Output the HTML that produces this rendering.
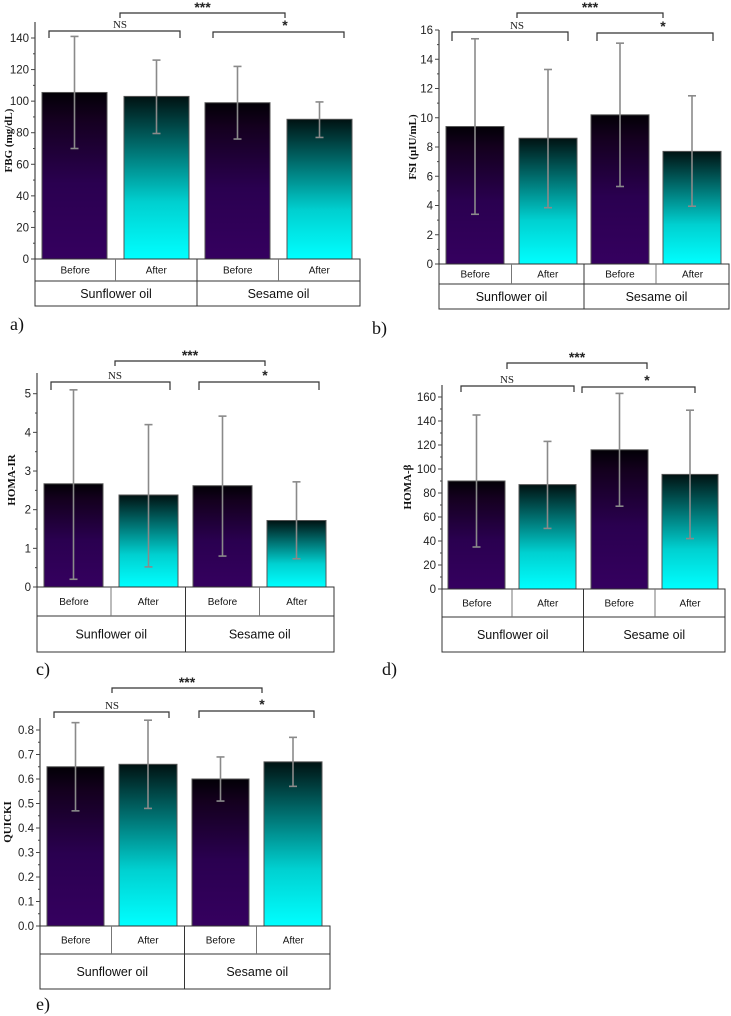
<!DOCTYPE html>
<html><head><meta charset="utf-8">
<style>
html,body{margin:0;padding:0;background:#fff;}
svg{display:block;}
</style></head>
<body>
<svg id="fig" width="731" height="1016" viewBox="0 0 731 1016" xmlns="http://www.w3.org/2000/svg">
<defs>
<linearGradient id="gPurple" x1="0" y1="0" x2="0" y2="1">
<stop offset="0" stop-color="#020006"/><stop offset="0.15" stop-color="#14001e"/><stop offset="0.55" stop-color="#2a0050"/><stop offset="1" stop-color="#35005f"/>
</linearGradient>
<linearGradient id="gCyan" x1="0" y1="0" x2="0" y2="1">
<stop offset="0" stop-color="#001212"/><stop offset="0.3" stop-color="#006a6a"/><stop offset="0.65" stop-color="#00d0d0"/><stop offset="1" stop-color="#00ffff"/>
</linearGradient>
</defs>
</svg>
<script>
// ---- data ----
const categories = ["Before","After","Before","After"];
const groups = ["Sunflower oil","Sesame oil"];
const fbgMeans = [105.5, 103, 99, 88.5];
const fbgUpper = [141, 126, 122, 99.5];
const fbgLower = [70, 79.5, 76, 77];
const fbgTicks = [0,20,40,60,80,100,120,140];
const fsiMeans = [9.4, 8.6, 10.2, 7.7];
const fsiUpper = [15.4, 13.3, 15.1, 11.5];
const fsiLower = [3.4, 3.85, 5.3, 3.95];
const fsiTicks = [0,2,4,6,8,10,12,14,16];
const irMeans = [2.67, 2.38, 2.62, 1.72];
const irUpper = [5.1, 4.2, 4.42, 2.72];
const irLower = [0.2, 0.52, 0.8, 0.73];
const irTicks = [0,1,2,3,4,5];
const betaMeans = [90, 87, 116, 95.5];
const betaUpper = [145, 123, 163, 149];
const betaLower = [35, 50.5, 69, 42];
const betaTicks = [0,20,40,60,80,100,120,140,160];
const qMeans = [0.65, 0.66, 0.60, 0.67];
const qUpper = [0.83, 0.84, 0.69, 0.77];
const qLower = [0.47, 0.48, 0.51, 0.57];
const qTicks = [0.0,0.1,0.2,0.3,0.4,0.5,0.6,0.7,0.8];

const NS = "http://www.w3.org/2000/svg";
const svg = document.getElementById('fig');
function mk(tag, attrs, parent, text){
  const e = document.createElementNS(NS, tag);
  for (const k in attrs) e.setAttribute(k, attrs[k]);
  if (text !== undefined) e.textContent = text;
  (parent||svg).appendChild(e);
  return e;
}

const panels = [
 {id:'fbg', title:'FBG (mg/dL)', means:fbgMeans, up:fbgUpper, lo:fbgLower, ticks:fbgTicks, dec:0,
  ax:35, top:22, y0:259, vTop:140, yTop:38, bars:[[42,107],[124,189],[205,270],[287,352]], boxR:360, r1:281, r2:306,
  titleX:12, label:'a)', lx:10, ly:330,
  br:{ns:[49,180,31,38], tri:[120,285,13,18], one:[213,344,32,38]}},
 {id:'fsi', title:'FSI (µIU/mL)', means:fsiMeans, up:fsiUpper, lo:fsiLower, ticks:fsiTicks, dec:0,
  ax:439, top:30, y0:264, vTop:16, yTop:30, bars:[[446,504],[519,577],[591,649],[663,721]], boxR:729, r1:284, r2:309,
  titleX:416, label:'b)', lx:372, ly:334,
  br:{ns:[452,568,32,41], tri:[517,663,13,18], one:[597,713,33,41]}},
 {id:'homa-ir', title:'HOMA-IR', means:irMeans, up:irUpper, lo:irLower, ticks:irTicks, dec:0,
  ax:37, top:373, y0:587, vTop:5, yTop:393.7, bars:[[44,103],[119,178],[193,252],[267,326]], boxR:334, r1:616, r2:652,
  titleX:15, label:'c)', lx:36, ly:675,
  br:{ns:[51,170,382,390], tri:[115,265,361,366], one:[199,319,382,390]}},
 {id:'homa-beta', title:'HOMA-β', means:betaMeans, up:betaUpper, lo:betaLower, ticks:betaTicks, dec:0,
  ax:442, top:385, y0:589, vTop:160, yTop:397, bars:[[448,505],[519,576],[591,648],[662,718]], boxR:725, r1:617, r2:652,
  titleX:411, label:'d)', lx:382, ly:675,
  br:{ns:[461,574,386,392], tri:[507,647,363,369], one:[582,695,387,393]}},
 {id:'quicki', title:'QUICKI', means:qMeans, up:qUpper, lo:qLower, ticks:qTicks, dec:1,
  ax:40, top:718, y0:926, vTop:0.8, yTop:730, bars:[[47,104],[119,177],[192,249],[264,322]], boxR:330, r1:954, r2:989,
  titleX:11, label:'e)', lx:36, ly:1010,
  br:{ns:[54,169,712,718], tri:[112,262,688,693], one:[199,314,711,718]}}
];

panels.forEach(p=>{
  const g = mk('g',{});
  
  
  const ys = v => p.y0 - (v/p.vTop)*(p.y0 - p.yTop);
  p.means.forEach((m,i)=>{
    const [x1,x2] = p.bars[i];
    const r = mk('rect',{x:x1,y:ys(m),width:x2-x1,height:p.y0-ys(m),fill:(i%2===0)?'url(#gPurple)':'url(#gCyan)',stroke:'#555','stroke-width':1},g);
    
    
  });
  p.means.forEach((m,i)=>{
    const [x1,x2] = p.bars[i];
    const cx = (x1+x2)/2;
    const eg = mk('g',{stroke:'#8a8a8a','stroke-width':1.6},g);
    
    
    mk('line',{x1:cx,x2:cx,y1:ys(p.up[i]),y2:ys(p.lo[i])},eg);
    mk('line',{x1:cx-4,x2:cx+4,y1:ys(p.up[i]),y2:ys(p.up[i])},eg);
    mk('line',{x1:cx-4,x2:cx+4,y1:ys(p.lo[i]),y2:ys(p.lo[i])},eg);
  });
  const axg = mk('g',{},g);
  
  
  mk('line',{x1:p.ax,x2:p.ax,y1:p.top,y2:p.y0,stroke:'#444','stroke-width':1.2},axg);
  p.ticks.forEach((t,k)=>{
    const y = ys(t);
    mk('line',{x1:p.ax-4,x2:p.ax,y1:y,y2:y,stroke:'#444','stroke-width':1},axg);
    if (k < p.ticks.length-1){
      const ym = ys((t + p.ticks[k+1])/2);
      mk('line',{x1:p.ax-2,x2:p.ax,y1:ym,y2:ym,stroke:'#444','stroke-width':1},axg);
    }
    const tl = mk('text',{x:p.ax-6,y:y+4,'text-anchor':'end','font-family':'Liberation Sans, sans-serif','font-size':11.5,fill:'#222'},axg, p.dec ? t.toFixed(1) : String(t));
    
    
  });
  const cy = (p.top + p.y0)/2;
  const yt = mk('text',{x:p.titleX,y:cy,'text-anchor':'middle','font-family':'Liberation Serif, serif','font-weight':'bold','font-size':11,fill:'#111',transform:`rotate(-90 ${p.titleX} ${cy})`},g,p.title);
  
  
  const tg = mk('g',{},g);
  
  
  mk('rect',{x:p.ax,y:p.y0,width:p.boxR-p.ax,height:p.r2-p.y0,fill:'none',stroke:'#333','stroke-width':1},tg);
  mk('line',{x1:p.ax,x2:p.boxR,y1:p.r1,y2:p.r1,stroke:'#333','stroke-width':1},tg);
  const midX = (p.bars[1][1]+p.bars[2][0])/2;
  const q1 = (p.bars[0][1]+p.bars[1][0])/2, q3 = (p.bars[2][1]+p.bars[3][0])/2;
  mk('line',{x1:midX,x2:midX,y1:p.y0,y2:p.r2,stroke:'#333'},tg);
  mk('line',{x1:q1,x2:q1,y1:p.y0,y2:p.r1,stroke:'#777'},tg);
  mk('line',{x1:q3,x2:q3,y1:p.y0,y2:p.r1,stroke:'#777'},tg);
  const cells = [[p.ax,q1],[q1,midX],[midX,q3],[q3,p.boxR]];
  cells.forEach((c,i)=>{
    const ct = mk('text',{x:(c[0]+c[1])/2,y:(p.y0+p.r1)/2+3.5,'text-anchor':'middle','font-family':'Liberation Sans, sans-serif','font-size':10,fill:'#111'},tg,categories[i]);
    
    
  });
  [[p.ax,midX],[midX,p.boxR]].forEach((c,i)=>{
    const gt = mk('text',{x:(c[0]+c[1])/2,y:(p.r1+p.r2)/2+4.5,'text-anchor':'middle','font-family':'Liberation Sans, sans-serif','font-size':12.5,fill:'#111'},tg,groups[i]);
    
    
  });
  const sig = [['ns','NS','serif',11],['tri','***','sans',14],['one','*','sans',14]];
  sig.forEach(s=>{
    const [x1,x2,y,yd] = p.br[s[0]];
    const bg = mk('g',{},g);
    
    
    mk('path',{d:`M${x1} ${yd} L${x1} ${y} L${x2} ${y} L${x2} ${yd}`,fill:'none',stroke:'#333','stroke-width':1.2},bg);
    let tx = (x1+x2)/2;
    if (s[0]==='ns') tx = p.br.tri[0];
    if (s[0]==='one') tx = p.br.tri[1];
    mk('text',{x:tx,y:s[0]==='tri'? y-1 : (s[0]==='one'? y-2 : y-3),'text-anchor':'middle','font-family':s[2]==='serif'?'Liberation Serif, serif':'Liberation Sans, sans-serif','font-weight':s[2]==='serif'?'normal':'bold','font-size':s[3],fill:'#222'},bg,s[1]);
  });
  const pl = mk('text',{x:p.lx,y:p.ly,'font-family':'Liberation Serif, serif','font-size':18,fill:'#111'},g,p.label);
  
  
});
</script>
</body></html>
